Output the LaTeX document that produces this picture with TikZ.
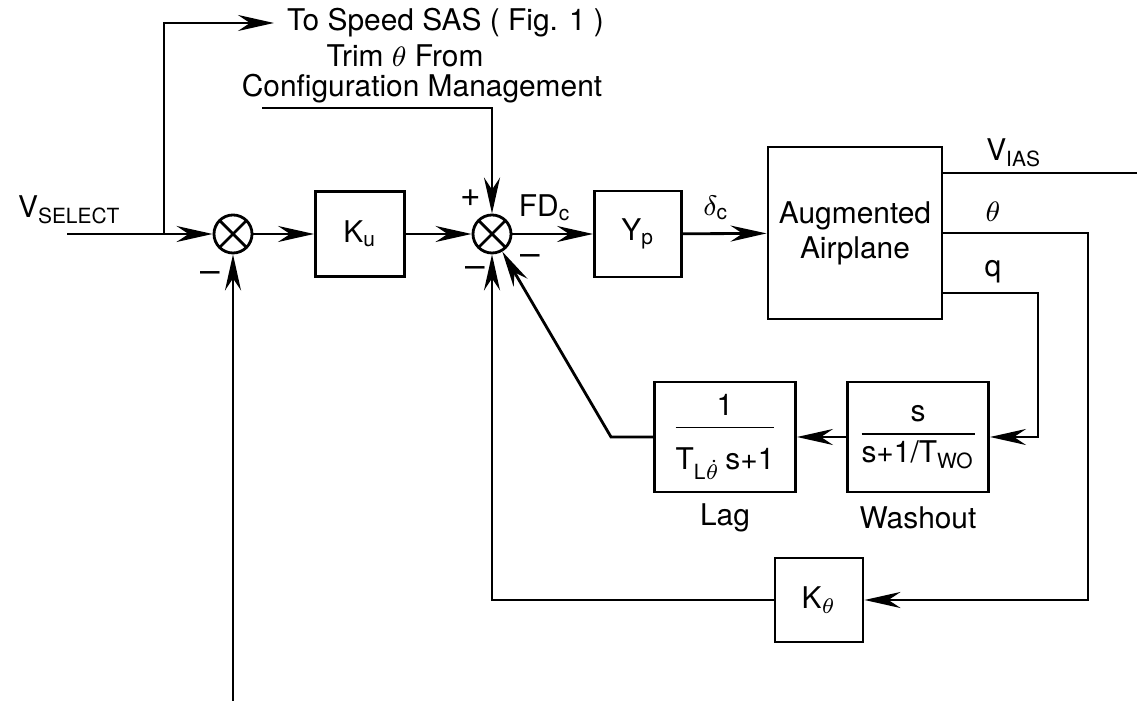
\documentclass[tikz,border=0pt]{standalone}
\usepackage{amsmath}
\usepackage{fontspec}
\setmainfont{TeX Gyre Heros}
\usetikzlibrary{arrows.meta}

\begin{document}
\begin{tikzpicture}[x=0.01cm,y=-0.01cm,
    font=\fontsize{8.5}{10}\selectfont,
    line width=0.8pt,
    >={Stealth[length=3.6mm,width=1.6mm,inset=1.2mm]},
    block/.style={draw,inner sep=0pt},
    sgn/.style={font=\fontsize{10}{10}\selectfont},
    sumj/.style={draw,circle,minimum size=3.8mm,inner sep=0pt,
      path picture={\draw (path picture bounding box.north west) -- (path picture bounding box.south east)
        (path picture bounding box.north east) -- (path picture bounding box.south west);}}]
  \useasboundingbox (0,0) rectangle (1137,701);

  % Summing junctions and blocks
  \node[sumj] (sum1) at (233,234) {};
  \node[sumj] (sum2) at (492,234) {};
  \node[block,minimum width=0.89cm,minimum height=0.85cm] (ku) at (360,234) {K$_{\text{u}}$};
  \node[block,minimum width=0.87cm,minimum height=0.86cm] (yp) at (638,234) {Y$_{\text{p}}$};
  \node[block,minimum width=1.74cm,minimum height=1.72cm,align=center] (plane) at (855,233) {Augmented\\Airplane};
  \node[block,minimum width=1.41cm,minimum height=1.10cm] (lag) at (725,437)
    {$\dfrac{\text{1}}{\rule{0pt}{2.4ex}\text{T}_{\text{L}\dot{\theta}}\,\text{s+1}}$};
  \node[block,minimum width=1.41cm,minimum height=1.10cm] (wash) at (918,437)
    {$\dfrac{\text{s}}{\text{s+1/T}_{\text{WO}}}$};
  \node[block,minimum width=0.88cm,minimum height=0.84cm] (kth) at (819,600) {K$_{\theta}$};

  % Texts
  \node[anchor=west] (vsel) at (5,210) {V$_{\text{SELECT}}$};
  \node[anchor=west] (sas) at (274,23) {To Speed SAS ( Fig. 1 )};
  \node (trim) at (405,56) {Trim $\theta$ From};
  \node (cfg) at (422,89) {Configuration Management};
  \node (fdc) at (545,208) {FD$_{\text{c}}$};
  \node (dc) at (716,208) {$\delta_{\text{c}}$};
  \node (vias) at (1014,153) {V$_{\text{IAS}}$};
  \node (th) at (993,212) {$\theta$};
  \node (q) at (993,272) {q};
  \node (laglbl) at (725,518) {Lag};
  \node (washlbl) at (918,518) {Washout};

  % Signs
  \node[sgn] (s1) at (210,277) {--};
  \node[sgn] (s2) at (471,198) {+};
  \node[sgn] (s3) at (475,272) {--};
  \node[sgn] (s4) at (530,260) {--};

  % Free ends and corners
  \coordinate (vin) at (67,234);
  \coordinate (br) at (164,234);
  \coordinate (trimin) at (262,108);
  \coordinate (vout) at (1137,173);
  \coordinate (thc) at (1088,600);
  \coordinate (qout) at (942,293);
  \coordinate (qc) at (1038,437);
  \coordinate (lagc) at (611,437);
  \coordinate (vfb) at (233,701);

  % Forward path
  \draw[->] (vin) -- (sum1);
  \draw[->] (br) |- (sas.west);
  \draw[->] (sum1) -- (ku);
  \draw[->] (ku) -- (sum2);
  \draw[->] (trimin) -| (sum2.north);
  \draw[->] (sum2) -- (yp);
  \draw[->] (yp) -- (plane);
  \draw (plane.east |- vout) -- (vout);

  % Feedback paths
  \draw[->] (plane.east) -| (thc) -- (kth);
  \draw[->] (qout) -| (qc) -- (wash);
  \draw[->] (wash) -- (lag);
  \draw[->] (lag) -- (lagc) -- (sum2);
  \draw[->] (kth) -| (sum2.south);
  \draw[->] (vfb) -- (sum1.south);
\end{tikzpicture}
\end{document}
